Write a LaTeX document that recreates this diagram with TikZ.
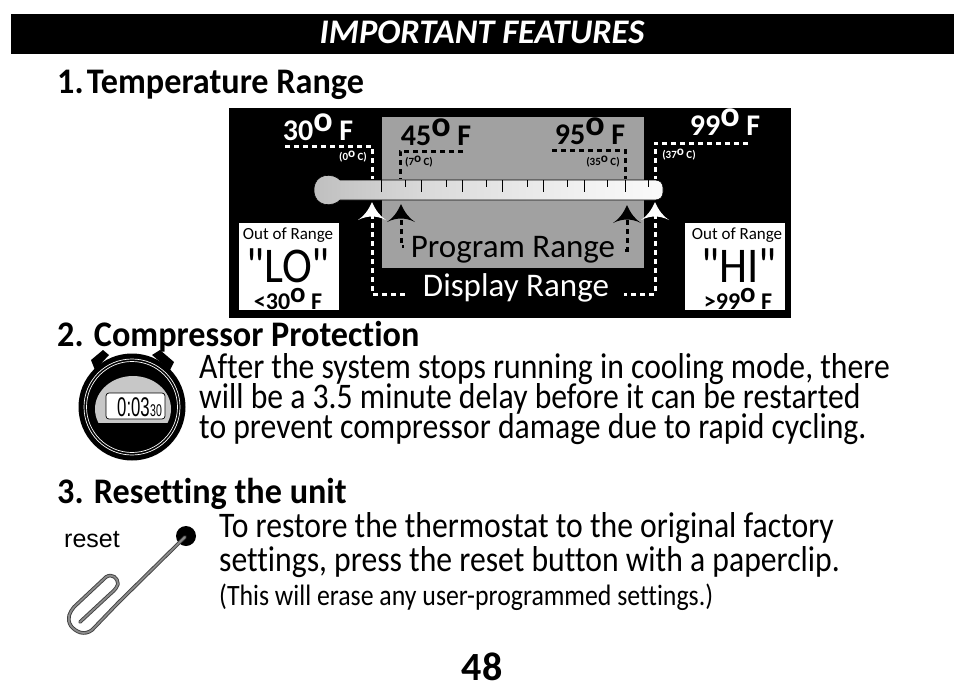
\documentclass[tikz,border=0pt]{standalone}
\usepackage{fontspec}
\setmainfont{Carlito}
\defaultfontfeatures{Ligatures=NoCommon}
\newfontfamily\bodyf[FakeStretch=0.88,Ligatures=NoCommon]{Carlito}
\newfontfamily\smallf[FakeStretch=0.875,Ligatures=NoCommon]{Carlito}
\newfontfamily\headf[FakeStretch=0.95,Ligatures=NoCommon]{Carlito}
\newfontfamily\labf[Ligatures=NoCommon]{Carlito}
\newfontfamily\lohif[FakeStretch=0.9]{Carlito}
\newfontfamily\arialf{Liberation Sans}
\newfontfamily\digitf[FakeStretch=0.62]{Liberation Sans}
\newcommand{\dg}{\raisebox{0.27em}{\scalebox{1.2}{o}}}
\newcommand{\ahead}[3]{\fill[#1,shift={(#2,#3)}] (0,0) .. controls (4,9) and (8,14) .. (14,18) .. controls (9,15.5) and (4,14.5) .. (0,14.5) .. controls (-4,14.5) and (-9,15.5) .. (-14,18) .. controls (-8,14) and (-4,9) .. (0,0) -- cycle;}
\pgfdeclarehorizontalshading{tubeshade}{100bp}{
  color(0bp)=(black!62); color(8bp)=(black!42); color(25bp)=(black!25); color(42bp)=(black!14);
  color(65bp)=(black!5); color(82bp)=(white); color(100bp)=(white)}
\tikzset{
  heading/.style={anchor=base west,inner sep=0,font=\headf\bfseries\fontsize{36}{36}\selectfont},
  bodytext/.style={anchor=base west,inner sep=0,font=\bodyf\fontsize{36}{36}\selectfont},
  wdash/.style={draw=white,line width=3pt,dash pattern=on 5pt off 4pt},
  bdash/.style={draw=black,line width=3pt,dash pattern=on 5pt off 4pt},
  templab/.style={anchor=base,inner sep=0,font=\labf\bfseries\fontsize{30}{30}\selectfont},
  cellab/.style={anchor=base,inner sep=0,font=\labf\bfseries\fontsize{11}{11}\selectfont},
  outbox/.style={fill=white,draw=none,minimum width=100pt,minimum height=87pt,inner sep=0,anchor=north west},
  oor/.style={anchor=base,inner sep=0,font=\labf\fontsize{17}{17}\selectfont},
  loHi/.style={anchor=base,inner sep=0,font=\lohif\fontsize{50}{50}\selectfont},
  lim/.style={anchor=base,inner sep=0,font=\labf\bfseries\fontsize{24}{24}\selectfont},
  tick/.style={draw=black,line width=0.6pt},
  clipo/.style={line width=3.6pt,draw=black!75,line cap=round,line join=round},
  clipi/.style={line width=1.8pt,draw=black!45,line cap=round,line join=round}
}
\begin{document}
\begin{tikzpicture}[x=1pt,y=-1pt]
\useasboundingbox[fill=white] (0,0) rectangle (954,699);
% header
\fill[black] (11,14) rectangle (954,54);
\node[anchor=base,inner sep=0,text=white,font=\labf\bfseries\itshape\fontsize{34.5}{34.5}\selectfont] (title) at (482,43) {IMPORTANT FEATURES};
\node[heading] (h1) at (57,93) {1.\hspace{-7pt} Temperature Range};
% panel
\fill[black] (229,108) rectangle (791,318);
\fill[black!37] (382,117) rectangle (644,268);
% thermometer
\shade[shading=tubeshade,draw=black,line width=0.6pt]
  (340,180) -- (655,180) .. controls (660,180) and (663,183) .. (663,188) -- (663,192) .. controls (663,197) and (660,200) .. (655,200) -- (340,200) .. controls (334,207) and (314,208) .. (314,190) .. controls (314,172) and (334,173) .. (340,180) -- cycle;
\foreach \x in {381,421.5,462,502.6,543,584,625} \draw[tick] (\x,180) -- (\x,192);
\foreach \x in {405,446,486,527,567,607,648} \draw[tick] (\x,180) -- (\x,187);
% temperature labels
\node[templab,text=white] (t30) at (318,140) {30\dg\ F};
\node[templab] (t45) at (436,145) {45\dg\ F};
\node[templab] (t95) at (590,144) {95\dg\ F};
\node[templab,text=white] (t99) at (725,135) {99\dg\ F};
\node[cellab,text=white] (c0) at (353,160) {(0\dg\ C)};
\node[cellab] (c7) at (419,165) {(7\dg\ C)};
\node[cellab] (c35) at (603,165) {(35\dg\ C)};
\node[cellab,text=white] (c37) at (679,158) {(37\dg\ C)};
% leader coordinates
\coordinate (a1) at (285,146); \coordinate (a2) at (372,146); \coordinate (a3) at (372,179);
\coordinate (b1) at (463,151); \coordinate (b2) at (400,151); \coordinate (b3) at (400,179);
\coordinate (d1) at (552,150); \coordinate (d2) at (625,150); \coordinate (d3) at (625,179);
\coordinate (e1) at (748,143); \coordinate (e2) at (655,143); \coordinate (e3) at (655,179);
\draw[wdash] (a1) -- (a2) -- (a3);
\draw[bdash] (b1) -- (b2) -- (b3);
\draw[bdash] (d1) -- (d2) -- (d3);
\draw[wdash] (e1) -- (e2) -- (e3);
% lower leaders
\coordinate (f1) at (372,214); \coordinate (f2) at (372,294); \coordinate (f3) at (405,294);
\coordinate (g1) at (655,214); \coordinate (g2) at (655,294); \coordinate (g3) at (624,294);
\coordinate (i1) at (401,220); \coordinate (i2) at (401,246); \coordinate (i3) at (404,246);
\coordinate (j1) at (627,220); \coordinate (j2) at (627,250); \coordinate (j3) at (622,250);
\draw[wdash] (f1) -- (f2) -- (f3);
\draw[wdash] (g1) -- (g2) -- (g3);
\draw[bdash] (i1) -- (i2) -- (i3);
\draw[bdash] (j1) -- (j2) -- (j3);
% arrowheads
\ahead{white}{372}{202}
\ahead{white}{655}{202}
\ahead{black}{401}{204}
\ahead{black}{627}{205}
% range labels
\node[anchor=base,inner sep=0,font=\labf\fontsize{33}{33}\selectfont] (prog) at (513,257) {Program Range};
\node[anchor=base,inner sep=0,text=white,font=\labf\fontsize{33}{33}\selectfont] (disp) at (516,296) {Display Range};
% out of range boxes
\node[outbox] (lobox) at (239,223) {};
\node[outbox] (hibox) at (685,223) {};
\node[oor] (oor1) at (288,239) {Out of Range};
\node[oor] (oor2) at (737,239) {Out of Range};
\node[loHi] (lo) at (288,282) {"LO"};
\node[loHi] (hi) at (739,282) {"HI"};
\node[lim] (lo3) at (288,309) {<30\dg\ F};
\node[lim] (hi3) at (738,309) {>99\dg\ F};
% section 2
\node[heading] (h2) at (57,346) {2. Compressor Protection};
\node[bodytext] (p21) at (199,378) {After the system stops running in cooling mode, there};
\node[bodytext] (p22) at (199,408) {will be a 3.5 minute delay before it can be restarted};
\node[bodytext] (p23) at (199,438) {to prevent compressor damage due to rapid cycling.};
% stopwatch
\fill[black] (91,360) -- (103,350) -- (109,355) -- (95,370) -- cycle;
\fill[black] (152,355) -- (160,350) -- (174,362) -- (170,370) -- cycle;
\fill[black] (132,407) circle[radius=53.5];
\draw[white,line width=0.7pt] (132,407) circle[radius=48];
\draw[white,line width=0.7pt] (132,407) circle[radius=45.5];
\begin{scope}
\clip (133,409) ellipse[x radius=38,y radius=33];
\fill[black!22] (90,360) rectangle (176,423);
\end{scope}
\node[draw=black,line width=0.7pt,fill=white,rounded corners=3pt,minimum width=59pt,minimum height=26pt,inner sep=0] (disp2) at (135.5,406) {};
\node[anchor=base east,inner sep=0,font=\digitf\fontsize{27}{27}\selectfont] (dig1) at (150,416) {0:03};
\node[anchor=base west,inner sep=0,font=\digitf\fontsize{17}{17}\selectfont] (dig2) at (150,416) {30};
% section 3
\node[heading] (h3) at (57,503) {3. Resetting the unit};
\node[bodytext] (p31) at (219,537) {To restore the thermostat to the original factory};
\node[bodytext] (p32) at (219,571) {settings, press the reset button with a paperclip.};
\node[anchor=base west,inner sep=0,font=\smallf\fontsize{29.5}{29.5}\selectfont] (p33) at (219,605) {(This will erase any user-programmed settings.)};
\node[anchor=base west,inner sep=0,font=\arialf\fontsize{25}{25}\selectfont] (rst) at (64,547) {reset};
\fill[black] (186,536) circle[radius=10];
\foreach \s in {clipo,clipi}
  \draw[\s] (185,537) -- (118,603) -- (92,630) .. controls (84,636) and (76,632) .. (71,626) .. controls (66,618) and (70,612) .. (74,607) -- (106,577) .. controls (112,573) and (118,578) .. (118,584) .. controls (116,590) and (112,592) .. (108,596) -- (80,622);
\node[anchor=base,inner sep=0,font=\labf\bfseries\fontsize{40}{40}\selectfont] (pg) at (482,680) {48};
\end{tikzpicture}
\end{document}
